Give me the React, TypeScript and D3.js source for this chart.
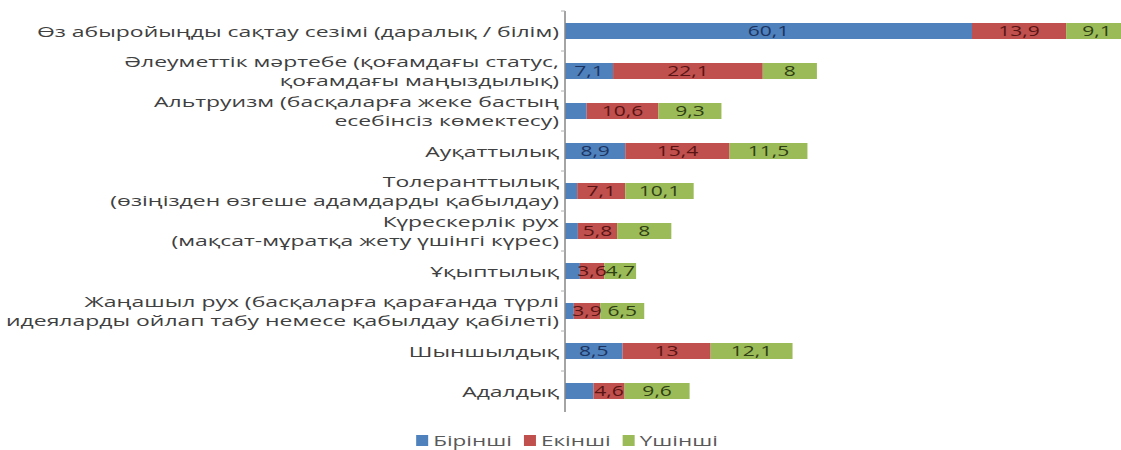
import * as d3 from "d3"
import { useLayoutEffect, useRef } from "react"

const CATEGORIES: string[][] = [
  ["Өз абыройыңды сақтау сезімі (даралық / білім)"],
  ["Әлеуметтік мәртебе (қоғамдағы статус,", "қоғамдағы маңыздылық)"],
  ["Альтруизм (басқаларға жеке бастың", "есебінсіз көмектесу)"],
  ["Ауқаттылық"],
  ["Толеранттылық", "(өзіңізден өзгеше адамдарды қабылдау)"],
  ["Күрескерлік рух", "(мақсат-мұратқа жету үшінгі күрес)"],
  ["Ұқыптылық"],
  ["Жаңашыл рух (басқаларға қарағанда түрлі", "идеяларды ойлап табу немесе қабылдау қабілеті)"],
  ["Шыншылдық"],
  ["Адалдық"],
]

const SERIES_NAMES = ["Бірінші", "Екінші", "Үшінші"]

const FIRST = [60.1, 7.1, 3.2, 8.9, 1.8, 1.9, 2.2, 1.3, 8.5, 4.2]
const SECOND = [13.9, 22.1, 10.6, 15.4, 7.1, 5.8, 3.6, 3.9, 13, 4.6]
const THIRD = [9.1, 8, 9.3, 11.5, 10.1, 8, 4.7, 6.5, 12.1, 9.6]

const COLORS = ["#4f81bd", "#c0504d", "#9bbb59"]
const LABEL_COLORS = ["#1c3461", "#5a1414", "#2f4013"]

const W = 1121
const H = 450
const FONT = "'Open Sans', 'DejaVu Sans', sans-serif"

const fmt = (v: number) => String(v).replace(".", ",")

export default function App() {
  const ref = useRef<SVGSVGElement>(null)

  useLayoutEffect(() => {
    if (!ref.current) return
    const svg = d3.select(ref.current)
    svg.selectAll("*").remove()

    const x0 = 565
    const keys = CATEGORIES.map((_, i) => String(i))
    const series = [FIRST, SECOND, THIRD]

    const x = d3.scaleLinear().domain([0, 60.1]).range([x0, 972])
    const y = d3
      .scaleBand()
      .domain(keys)
      .range([11, 411])
      .paddingInner(0.6)
      .paddingOuter(0.3)

    const rows = keys.map((k, i) => {
      const row: Record<string, number> = {}
      series.forEach((s, j) => (row[SERIES_NAMES[j]] = s[i]))
      return row
    })
    const stacked = d3.stack<Record<string, number>>().keys(SERIES_NAMES)(rows)

    const g = svg.append("g")

    stacked.forEach((layer, j) => {
      g.selectAll(`.bar${j}`)
        .data(layer)
        .enter()
        .append("rect")
        .attr("x", (d) => x(d[0]))
        .attr("y", (_, i) => y(keys[i])!)
        .attr("width", (d) => x(d[1]) - x(d[0]))
        .attr("height", y.bandwidth())
        .attr("fill", COLORS[j])
    })

    // data labels (small first-series values are not labelled)
    stacked.forEach((layer, j) => {
      layer.forEach((d, i) => {
        const v = series[j][i]
        if (j === 0 && v < 5) return
        const cx = (x(d[0]) + x(d[1])) / 2
        const cy = y(keys[i])! + y.bandwidth() / 2
        g.append("text")
          .attr("transform", `translate(${cx},${cy + 5}) scale(1.45,1)`)
          .attr("text-anchor", "middle")
          .attr("font-family", FONT)
          .attr("font-size", 14.5)
          .attr("fill", LABEL_COLORS[j])
          .text(fmt(v))
      })
    })

    // axis line + ticks
    g.append("line")
      .attr("x1", x0)
      .attr("x2", x0)
      .attr("y1", 11)
      .attr("y2", 412)
      .attr("stroke", "#868686")
      .attr("stroke-width", 1.5)
    keys.forEach((k, i) => {
      const ty = 11 + i * y.step()
      g.append("line")
        .attr("x1", x0 - 4)
        .attr("x2", x0)
        .attr("y1", ty)
        .attr("y2", ty)
        .attr("stroke", "#b0b0b0")
    })

    // category labels
    CATEGORIES.forEach((lines, i) => {
      const cy = y(keys[i])! + y.bandwidth() / 2
      const lh = 19.5
      lines.forEach((line, li) => {
        const ly = cy + (li - (lines.length - 1) / 2) * lh + 5.5
        g.append("text")
          .attr("transform", `translate(559,${ly}) scale(1.53,1)`)
          .attr("text-anchor", "end")
          .attr("font-family", FONT)
          .attr("font-size", 15)
          .attr("fill", "#404040")
          .text(line)
      })
    })

    // legend
    const legend = g.append("g")
    let lx = 0
    SERIES_NAMES.forEach((name, j) => {
      legend
        .append("rect")
        .attr("x", lx)
        .attr("y", 435)
        .attr("width", 12)
        .attr("height", 11)
        .attr("fill", COLORS[j])
      const t = legend
        .append("text")
        .attr("transform", `translate(${lx + 17},${446}) scale(1.5,1)`)
        .attr("font-family", FONT)
        .attr("font-size", 15)
        .attr("fill", "#595959")
        .text(name)
      const tw = (t.node() as SVGTextElement).getComputedTextLength() * 1.5
      lx += 17 + tw + 12
    })
    const total = lx - 12
    legend.attr("transform", `translate(${567 - total / 2},0)`)
  }, [])

  return (
    <svg
      ref={ref}
      width={W}
      height={H}
      style={{ position: "absolute", left: 0, top: 0, background: "#fff" }}
    />
  )
}
